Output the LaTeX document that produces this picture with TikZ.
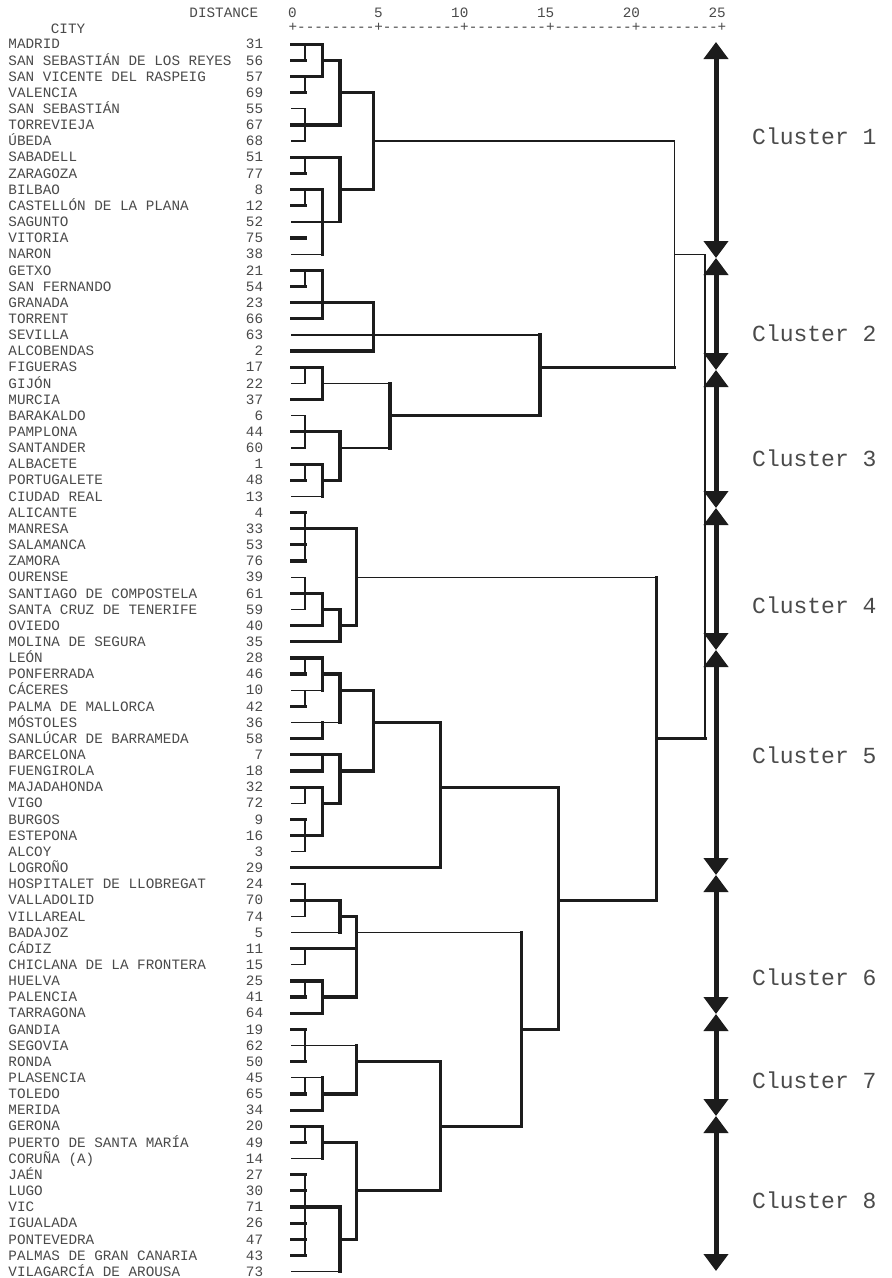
\documentclass[tikz,border=0pt]{standalone}
\usepackage{fontspec}
\usepackage{xcolor}
\usepackage{tikz}
\usetikzlibrary{arrows.meta}
\newfontfamily\cityfam{Liberation Mono}[Ligatures=TeXOff]
\definecolor{inkgray}{HTML}{4A4A4A}
\definecolor{treeblack}{HTML}{1C1C1C}
\def\dA{0.72}
\def\dB{1.74}
\def\dC{2.76}
\def\dD{3.74}
\def\dE{4.70}
\def\dM{5.67}
\def\dF{8.62}
\def\dG{13.35}
\def\dH{14.41}
\def\dI{15.48}
\def\dJ{21.21}
\def\dK{22.24}
\def\dR{24.03}

\begin{document}
\begin{tikzpicture}[
  x=1pt, y=-1pt,
  cityname/.style={anchor=west, inner sep=0pt, text height=9.4pt, text depth=0pt, text=inkgray, font=\cityfam\fontsize{14.3}{16}\selectfont},
  citynum/.style={cityname, anchor=east},
  clusterlabel/.style={anchor=west, inner sep=0pt, text=inkgray, font=\cityfam\fontsize{23}{25}\selectfont},
  thk/.style={draw=treeblack, line width=3.2pt, line cap=rect},
  thn/.style={draw=treeblack, line width=1.3pt, line cap=rect},
  span/.style={draw=treeblack, line width=5pt, {Triangle[width=24pt,length=17pt]}-{Triangle[width=24pt,length=17pt]}}
]
\fill[white] (0,0) rectangle (892,1278);
\useasboundingbox (0,0) rectangle (892,1278);

\node[citynum] (distance) at (258.3,12.3) {DISTANCE};
\node[cityname] (cityhead) at (50.7,28.3) {CITY};
\foreach \v [count=\k from 0] in {0,5,10,15,20,25}
  \node[citynum] (tick\v) at ({292.7+85.8*\k+4.29},12.3) {\v};
\node[cityname] (axis) at (288.4,27.2) {+---------+---------+---------+---------+---------+};

\foreach \cname/\cnum [count=\r] in {MADRID/31, SAN SEBASTIÁN DE LOS REYES/56, SAN VICENTE DEL RASPEIG/57, VALENCIA/69, SAN SEBASTIÁN/55, TORREVIEJA/67, ÚBEDA/68, SABADELL/51, ZARAGOZA/77, BILBAO/8, CASTELLÓN DE LA PLANA/12, SAGUNTO/52, VITORIA/75, NARON/38, GETXO/21, SAN FERNANDO/54, GRANADA/23, TORRENT/66, SEVILLA/63, ALCOBENDAS/2, FIGUERAS/17, GIJÓN/22, MURCIA/37, BARAKALDO/6, PAMPLONA/44, SANTANDER/60, ALBACETE/1, PORTUGALETE/48, CIUDAD REAL/13, ALICANTE/4, MANRESA/33, SALAMANCA/53, ZAMORA/76, OURENSE/39, SANTIAGO DE COMPOSTELA/61, SANTA CRUZ DE TENERIFE/59, OVIEDO/40, MOLINA DE SEGURA/35, LEÓN/28, PONFERRADA/46, CÁCERES/10, PALMA DE MALLORCA/42, MÓSTOLES/36, SANLÚCAR DE BARRAMEDA/58, BARCELONA/7, FUENGIROLA/18, MAJADAHONDA/32, VIGO/72, BURGOS/9, ESTEPONA/16, ALCOY/3, LOGROÑO/29, HOSPITALET DE LLOBREGAT/24, VALLADOLID/70, VILLAREAL/74, BADAJOZ/5, CÁDIZ/11, CHICLANA DE LA FRONTERA/15, HUELVA/25, PALENCIA/41, TARRAGONA/64, GANDIA/19, SEGOVIA/62, RONDA/50, PLASENCIA/45, TOLEDO/65, MERIDA/34, GERONA/20, PUERTO DE SANTA MARÍA/49, CORUÑA (A)/14, JAÉN/27, LUGO/30, VIC/71, IGUALADA/26, PONTEVEDRA/47, PALMAS DE GRAN CANARIA/43, VILAGARCÍA DE AROUSA/73} {
  \node[cityname] (city\r) at (8.3,{28.05+16.15*\r}) {\cname};
  \node[citynum] (num\r) at (263.3,{28.05+16.15*\r}) {\cnum};
}

\begin{scope}[shift={(292.7,28.05)}, x=17.16pt, y=-16.15pt]
\foreach \r/\e/\w in {1/\dB/thk, 2/\dA/thk, 3/\dB/thk, 4/\dA/thk, 5/\dA/thn, 6/\dC/thk, 7/\dA/thn, 8/\dC/thk, 9/\dA/thk, 10/\dB/thk, 11/\dA/thk, 12/\dC/thn, 13/\dA/thk, 14/\dB/thn,
  15/\dB/thk, 16/\dA/thk, 17/\dE/thk, 18/\dB/thk, 19/\dH/thn, 20/\dE/thk,
  21/\dB/thk, 22/\dA/thn, 23/\dB/thk, 24/\dA/thn, 25/\dC/thk, 26/\dA/thn, 27/\dB/thk, 28/\dA/thk, 29/\dB/thn,
  30/\dA/thk, 31/\dD/thk, 32/\dA/thk, 33/\dA/thk, 34/\dA/thn, 35/\dB/thk, 36/\dA/thn, 37/\dB/thk, 38/\dC/thk,
  39/\dB/thk, 40/\dA/thk, 41/\dB/thn, 42/\dA/thk, 43/\dC/thn, 44/\dB/thk, 45/\dC/thk, 46/\dB/thk, 47/\dB/thk, 48/\dA/thn, 49/\dA/thk, 50/\dB/thk, 51/\dA/thn, 52/\dF/thk,
  53/\dA/thn, 54/\dC/thk, 55/\dA/thn, 56/\dC/thn, 57/\dD/thk, 58/\dA/thn, 59/\dB/thk, 60/\dA/thk, 61/\dB/thk,
  62/\dA/thk, 63/\dD/thn, 64/\dA/thk, 65/\dB/thn, 66/\dA/thk, 67/\dB/thk,
  68/\dB/thk, 69/\dA/thk, 70/\dB/thn, 71/\dA/thk, 72/\dA/thk, 73/\dC/thk, 74/\dA/thk, 75/\dA/thk, 76/\dA/thk, 77/\dC/thn}
  \draw[\w] (-0.05,\r) -- (\e,\r);
\foreach \v/\p/\q/\w in {\dA/1/2/thn, \dA/3/4/thn, \dB/1/3/thk, \dA/5/7/thn, \dC/2/6/thk, \dA/8/9/thn, \dA/10/11/thn, \dB/10/14/thk, \dC/8/12/thk, \dE/4/10/thk, \dK/7/21/thn,
  \dA/15/16/thn, \dB/15/18/thk, \dE/17/20/thk, \dH/19/24/thk,
  \dA/21/22/thn, \dB/21/23/thk, \dM/22/26/thk, \dA/24/26/thn, \dA/27/28/thn, \dB/27/29/thk, \dC/25/28/thk,
  \dA/30/33/thn, \dA/34/36/thn, \dB/35/37/thk, \dC/36/38/thk, \dD/31/37/thk, \dJ/34/54/thk,
  \dA/39/40/thn, \dA/41/42/thn, \dB/39/41/thk, \dB/43/44/thk, \dC/40/43/thk, \dB/45/46/thk, \dA/47/48/thn, \dA/49/51/thn, \dB/47/50/thk, \dC/45/48/thk, \dE/41/46/thk, \dF/43/52/thk, \dI/47/62/thk,
  \dA/53/55/thn, \dC/54/56/thk, \dA/57/58/thn, \dA/59/60/thn, \dB/59/61/thk, \dD/55/60/thk, \dG/56/68/thk,
  \dA/62/64/thn, \dA/65/66/thn, \dB/65/67/thk, \dD/63/66/thk,
  \dA/68/69/thn, \dB/68/70/thk, \dA/71/76/thn, \dC/73/77/thk, \dD/69/75/thk, \dF/64/72/thk,
  \dR/14/44/thn}
  \draw[\w] (\v,\p) -- (\v,\q);
\foreach \r/\p/\q/\w in {2/\dB/\dC/thk, 4/\dC/\dE/thk, 10/\dC/\dE/thk, 7/\dE/\dK/thn, 14/\dK/\dR/thn,
  21/\dH/\dK/thk,
  22/\dB/\dM/thn, 28/\dB/\dC/thk, 26/\dC/\dM/thn, 24/\dM/\dH/thk,
  36/\dB/\dC/thk, 37/\dC/\dD/thk, 34/\dD/\dJ/thn, 44/\dJ/\dR/thk,
  40/\dB/\dC/thk, 41/\dC/\dE/thk, 48/\dB/\dC/thk, 46/\dC/\dE/thk, 43/\dE/\dF/thk, 47/\dF/\dI/thk, 54/\dI/\dJ/thk,
  55/\dC/\dD/thk, 60/\dB/\dD/thk, 56/\dD/\dG/thn, 62/\dG/\dI/thk,
  66/\dB/\dD/thk, 64/\dD/\dF/thk,
  69/\dB/\dD/thk, 75/\dC/\dD/thk, 72/\dD/\dF/thk, 68/\dF/\dG/thk}
  \draw[\w] (\p,\r) -- (\q,\r);
\end{scope}

\coordinate (b0) at (716,42);
\coordinate (b1) at (716,258);
\coordinate (b2) at (716,370);
\coordinate (b3) at (716,508);
\coordinate (b4) at (716,650);
\coordinate (b5) at (716,875);
\coordinate (b6) at (716,1014);
\coordinate (b7) at (716,1116);
\coordinate (b8) at (716,1271);
\foreach \p [count=\q] in {0,...,7}
  \draw[span] (b\p) -- (b\q);

\node[clusterlabel] (cl1) at (752,136) {Cluster 1};
\node[clusterlabel] (cl2) at (752,333) {Cluster 2};
\node[clusterlabel] (cl3) at (752,458) {Cluster 3};
\node[clusterlabel] (cl4) at (752,605) {Cluster 4};
\node[clusterlabel] (cl5) at (752,755) {Cluster 5};
\node[clusterlabel] (cl6) at (752,977) {Cluster 6};
\node[clusterlabel] (cl7) at (752,1080) {Cluster 7};
\node[clusterlabel] (cl8) at (752,1200) {Cluster 8};

\end{tikzpicture}
\end{document}
